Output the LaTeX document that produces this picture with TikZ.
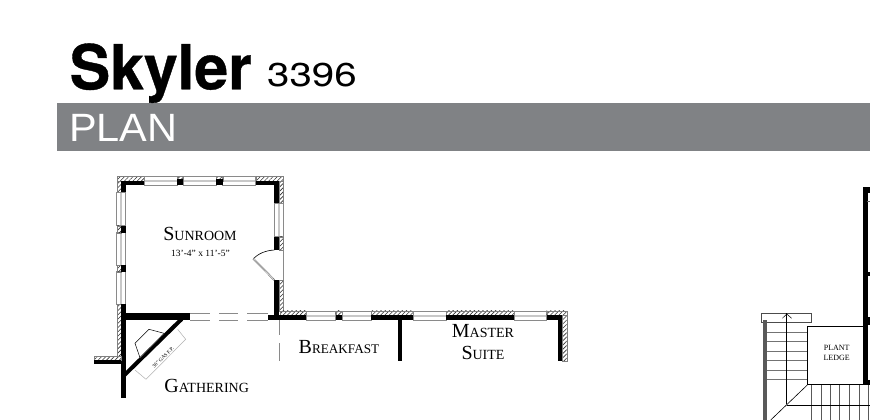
\documentclass[tikz,border=0pt]{standalone}
\usepackage{fontspec}
\usetikzlibrary{patterns.meta}
\setmainfont{Liberation Serif}
\newfontfamily\headbold[FakeStretch=0.98,FakeBold=0.6]{TeX Gyre Heros Bold}
\newfontfamily\headwide[FakeStretch=1.22]{TeX Gyre Heros}
\newfontfamily\headplain[FakeStretch=1.05]{Liberation Sans}
\definecolor{bargray}{HTML}{808285}
\definecolor{wingray}{HTML}{8A8A8A}
\definecolor{winlight}{HTML}{C8C8C8}
\newcommand{\bigsc}[2]{{\fontsize{20}{20}\selectfont #1\fontsize{14}{14}\selectfont #2}}
\newcommand{\hatchbox}[2]{\path[hatchwall] (#1) rectangle (#2);}
\newcommand{\blk}[2]{\fill[black] (#1) rectangle (#2);}
\newcommand{\winh}[3]{% x1,x2,y-top of 9-high window
  \draw[window] (#1,#3) rectangle (#2,#3+9);
  \draw[winlight,line width=2pt] (#1+0.5,#3+4.5) -- (#2-0.5,#3+4.5);}
\newcommand{\winv}[3]{% y1,y2,x-left of 9-wide window
  \draw[window] (#3,#1) rectangle (#3+9,#2);
  \draw[winlight,line width=2pt] (#3+4.5,#1+0.5) -- (#3+4.5,#2-0.5);}
\tikzset{
  hatchwall/.style={pattern={Lines[angle=45,distance=3pt,line width=0.6pt]},pattern color=black!80,draw=black!50,line width=0.3pt},
  window/.style={draw=wingray,fill=white,line width=0.5pt},
  room/.style={inner sep=0pt,anchor=base,text=black},
  thin gray/.style={draw=wingray,line width=0.8pt},
  tread/.style={draw=black!55,line width=0.8pt},
  grid/.style={draw=black!65,line width=0.5pt}
}
\begin{document}
\begin{tikzpicture}[x=1pt,y=-1pt]
\useasboundingbox (0,0) rectangle (870,420);
\fill[white] (0,0) rectangle (870,420);
% header
\fill[bargray] (56.7,103.3) rectangle (870,150.7);
\node[inner sep=0pt,anchor=base west] (title) at (69.5,89.3) {\headbold\fontsize{62}{62}\selectfont Skyler};
\node[inner sep=0pt,anchor=base west] (num) at (267,86.7) {\headwide\fontsize{33}{33}\selectfont 3396};
\node[inner sep=0pt,anchor=base west,text=white] (plan) at (69,141.7) {\headplain\fontsize{39.5}{39.5}\selectfont PLAN};
% sunroom top wall
\hatchbox{117,176}{144.3,181}\hatchbox{255.7,176}{283,181}
\blk{121,181}{144.3,185}\blk{255.7,181}{279,185}
\winh{144.3}{177.3}{176}\winh{183.3}{216}{176}\winh{222.7}{255.7}{176}
\hatchbox{177.3,176}{183.3,181}\hatchbox{216,176}{222.7,181}
\blk{177.3,179}{183.3,185}\blk{216,179}{222.7,185}
% left wall
\hatchbox{117,181}{121,192.7}
\blk{121,181}{125.5,192.7}
\winv{192.7}{225.7}{116.5}\winv{232.7}{265}{116.5}\winv{271.7}{304}{116.5}
\hatchbox{117,225.7}{121,232.7}\hatchbox{117,265}{121,271.7}
\blk{121,225.7}{125.5,232.7}\blk{121,265}{125.5,271.7}
% right wall
\hatchbox{279,181}{283,203.3}\blk{274.3,181}{279,203.3}
\winv{203.3}{236.7}{274.3}
\hatchbox{279,236.7}{283,250}\blk{274.3,236.7}{279,250}
\hatchbox{279,280}{283,311}\blk{274.3,280}{279.3,320}
% door
\draw[wingray,line width=0.5pt] (283,250) -- (283,280);
\draw[black,line width=0.6pt] (274.3,250) .. controls (265,250.5) and (258,254) .. (253.3,258.7);
\draw[black!70,line width=1.6pt] (253.3,258.7) -- (274.3,280);
\draw[white,line width=0.6pt] (253.3,258.7) -- (274.3,280);
% lower left wall
\hatchbox{117,304}{121,356}
\blk{121,304}{125.7,398}
\hatchbox{94,356}{121,360}
\blk{94,360}{121,364.3}
% interior wall with opening
\blk{125.7,312.7}{190,320}
\foreach \a/\b in {190/210,219.3/238.3,247.3/267.7}{
  \draw[thin gray] (\a,313) -- (\b,313);
  \draw[thin gray] (\a,320) -- (\b,320);
}
\blk{267.7,315}{280,320}
% fireplace
\draw[black,line width=4pt] (124,375.5) -- (181.7,319);
\draw[black!60,line width=0.5pt] (140,357.7) -- (164,333.3);
\draw[black,line width=0.5pt] (164,333.3) -- (149,329.3) -- (135,343.3) -- (140,357.7);
\draw[black!30,line width=0.5pt] (177.7,329.3) -- (185.7,339.3) -- (146,379.3) -- (135,370);
\node[inner sep=0pt,rotate=45,font=\fontsize{5.2}{5.2}\selectfont] (gas) at (163,357.5) {36" GAS F.P.};
% right run of wall
\hatchbox{280,310.7}{306.7,315}\blk{280,315}{306.7,320}
\winh{306.7}{335.7}{311}
\hatchbox{335.7,310.7}{342,315}\blk{335.7,315}{342,320}
\winh{342}{371}{311}
\hatchbox{371,310.7}{413.3,315}\blk{371,315}{413.3,320}
\winh{413.3}{446}{311}
\hatchbox{446,310.7}{514.3,315}\blk{446,315}{514.3,320}
\winh{514.3}{546.7}{311}
\hatchbox{546.7,310.7}{566.7,315}\blk{546.7,315}{562.3,320}
\hatchbox{562.3,315}{566.7,360.7}\blk{558.3,315}{562.3,360.7}
\blk{398.3,320}{402.3,361}
% gray dashed
\draw[thin gray] (279,320) -- (279,334.7);
\draw[thin gray] (279,343) -- (279,360.7);
% labels
\node[room] (sun) at (200,240.7) {\bigsc{S}{UNROOM}};
\node[room,font=\fontsize{9.5}{9.5}\selectfont] (dim) at (200.5,256) {13'-4" x 11'-5"};
\node[room] (break) at (339,353.5) {{\fontsize{20}{20}\selectfont B\fontsize{13.2}{13.2}\selectfont REAKFAST}};
\node[room] (mast) at (483,337) {\bigsc{M}{ASTER}};
\node[room] (suite) at (483,359.5) {\bigsc{S}{UITE}};
\node[room] (gath) at (206.7,392) {\bigsc{G}{ATHERING}};
% right-hand stairs
\draw[black!70,line width=0.7pt] (761.7,313.3) rectangle (811.7,322.7);
\foreach \y in {332.3,341.7,351,360.3,370,379.3}{\draw[tread] (766.7,\y) -- (807.3,\y);}
\fill[black!65] (763.3,320) rectangle (766.7,420);
\draw[black,line width=0.5pt] (786.7,313.3) -- (786.7,404.3);
\draw[black,line width=0.5pt] (782.3,318.3) -- (786.7,314) -- (791.7,318.3);
\foreach \x in {811.7,821,830.3,839.7,849.3,859,868.3}{\draw[grid] (\x,385) -- (\x,420);}
\draw[black,line width=0.5pt] (786.7,405) -- (870,405);
\draw[black,line width=0.6pt] (807.3,385) -- (770.7,420);
% plant ledge
\draw[black,line width=0.7pt,fill=white] (807.3,326) rectangle (863.3,384.3);
\node[inner sep=0pt,font=\fontsize{8}{9.4}\selectfont,align=center] (ledge) at (836.7,353) {PLANT\\LEDGE};
% right wall
\blk{863.3,187.3}{870,192.7}
\blk{863.3,187.3}{867.7,385}
\blk{867.7,271.7}{870,276}
\blk{867.7,316.7}{870,325}
\blk{867.7,380}{870,385}
\draw[black!60,line width=0.4pt] (866.7,201) -- (870,201);
\end{tikzpicture}
\end{document}
